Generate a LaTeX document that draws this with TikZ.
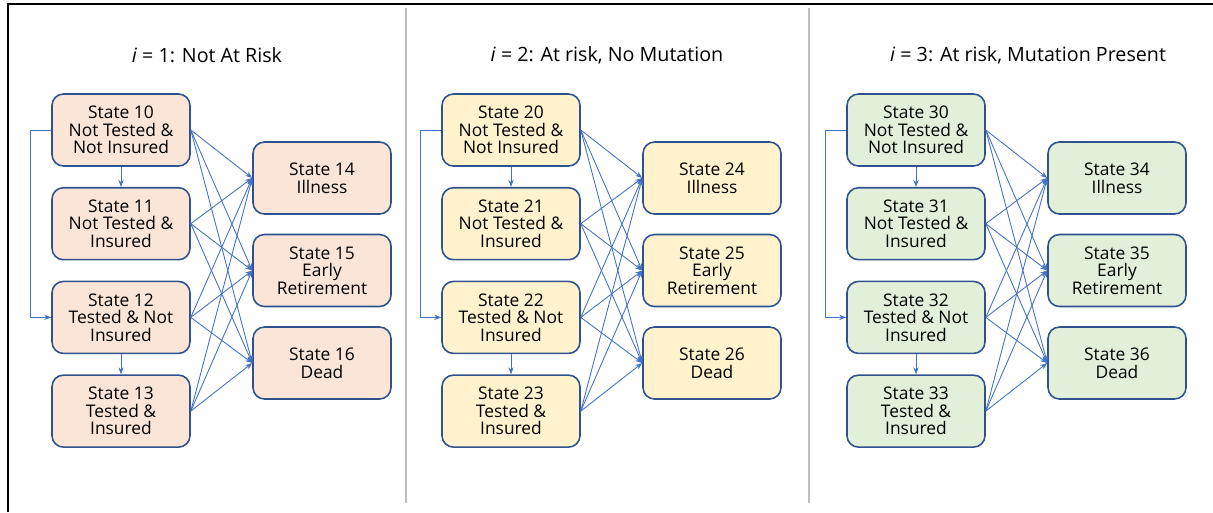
\documentclass[tikz,border=0pt]{standalone}
\usepackage{fontspec}
\setmainfont{Open Sans}
\usetikzlibrary{arrows.meta}
\definecolor{boxline}{HTML}{2F528F}
\definecolor{linkblue}{HTML}{4472C4}
\definecolor{fill1}{HTML}{FBE5D6}
\definecolor{fill2}{HTML}{FFF2CC}
\definecolor{fill3}{HTML}{E2F0D9}
\tikzset{
  every state/.style={draw=boxline, line width=0.9pt, rounded corners=6.5pt,
    align=center, minimum width=2.76cm, minimum height=1.44cm, inner sep=1pt,
    font=\fontsize{9.9}{10}\selectfont},
  group 1/.style={fill=fill1},
  group 2/.style={fill=fill2},
  group 3/.style={fill=fill3},
  panel title/.style={font=\fontsize{11.2}{13}\selectfont},
  link/.style={->, draw=linkblue, line width=0.5pt},
  separator/.style={draw=gray!50, line width=0.6pt}
}

\begin{document}
\begin{tikzpicture}[x=0.02cm, y=-0.02cm, >={Stealth[length=4pt,width=3pt]}]
  \useasboundingbox (0,0) rectangle (1213,512);

  % Frame and panel separators
  \draw [line width=1.2pt] (8,512) -- (8,4) -- (1213,4);
  \draw [separator] (406,8) -- (406,503);
  \draw [separator] (809,8) -- (809,503);

  \foreach \p/\lx/\rx/\tx/\txt in {1/121/322/207/{Not At Risk},
      2/511/712/607/{At risk, No Mutation},
      3/916/1117/1028/{At risk, Mutation Present}} {
    \node [panel title] (title-\p) at (\tx,55) {\textit{i} = \p: \txt};

    % Tested / insured states
    \foreach \l [count=\y from 0] in {{Not Tested \&\\Not Insured}, {Not Tested \&\\Insured},
        {Tested \& Not\\Insured}, {Tested \&\\Insured}}
      \node [every state/.try, group \p/.try] (state-\p\y) at (\lx,130+\y*93.7) {State \p\y\\\l};

    % Exit states
    \foreach \l [count=\y from 4] in {Illness, {Early\\Retirement}, Dead}
      \node [every state/.try, group \p/.try] (state-\p\y) at (\rx,178+\y*92.5-370) {State \p\y\\\l};

    % Draw the connecting arrows
    \draw [link] (state-\p0.south) -- (state-\p1.north);
    \draw [link] (state-\p2.south) -- (state-\p3.north);
    \draw [link] (state-\p0.west) -- ++(-21,0) |- (state-\p2.west);

    \foreach \i in {0,...,3}
      \foreach \j in {4,...,6}
        \draw [link] (state-\p\i.east) -- (state-\p\j.west);
  }
\end{tikzpicture}
\end{document}
